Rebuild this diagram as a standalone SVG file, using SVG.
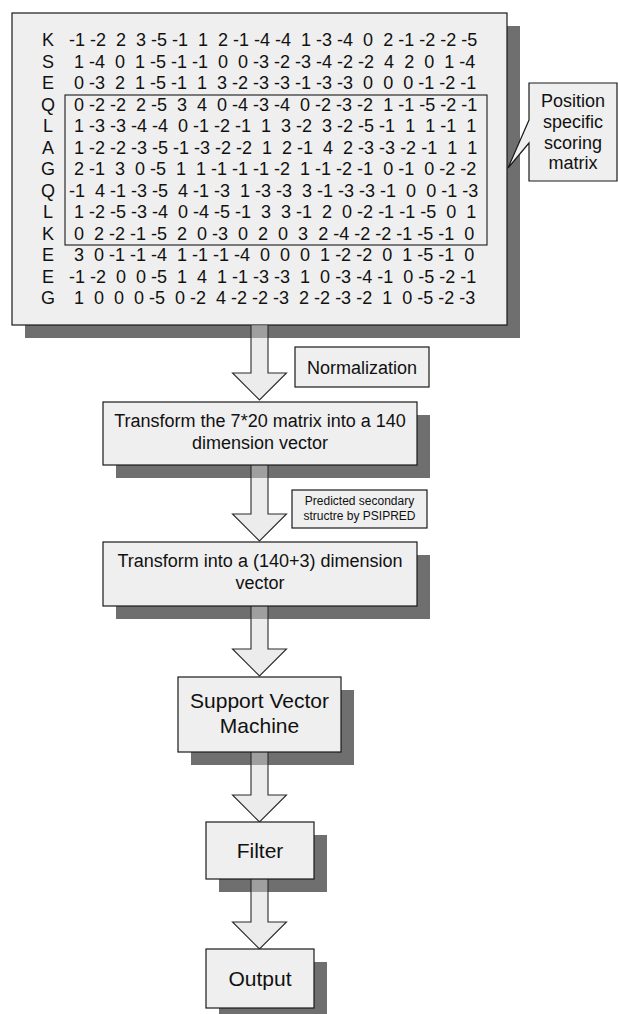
<svg xmlns="http://www.w3.org/2000/svg" width="618" height="1014" viewBox="0 0 618 1014">
<style>
.bg{fill:#ffffff}
.shadow{fill:#6f6f6f}
.box{fill:#efefef;stroke:#1a1a1a;stroke-width:1.2}
.t{font-family:"Liberation Sans",Arial,sans-serif;fill:#111}
.m{font-size:18px}
.lbl{font-size:18px;text-anchor:middle}
.big{font-size:21px;text-anchor:middle}
.small{font-size:12px;text-anchor:middle}
.arrow{fill:#d7d7d7;fill-opacity:0.47;stroke:#2a2a2a;stroke-width:1.1}
.inner{fill:none;stroke:#1a1a1a;stroke-width:1.1}
</style>
<rect class="bg" x="0" y="0" width="618" height="1014"/>

<g id="pssm">
<rect class="shadow" x="25" y="26" width="495" height="312"/>
<rect class="box" x="12" y="13" width="495" height="312"/>
<rect class="inner" x="65" y="95" width="422" height="150"/>
<g class="t" font-size="18" text-anchor="middle">
<text x="48" y="46">K</text>
<text x="48" y="67.5">S</text>
<text x="48" y="89">E</text>
<text x="48" y="110.5">Q</text>
<text x="48" y="132">L</text>
<text x="48" y="153.5">A</text>
<text x="48" y="175">G</text>
<text x="48" y="196.5">Q</text>
<text x="48" y="218">L</text>
<text x="48" y="239.5">K</text>
<text x="48" y="261">E</text>
<text x="48" y="282.5">E</text>
<text x="48" y="304">G</text>
</g>
<g class="t m">
<text x="64" y="46">&#160;-1&#160;-2&#160;&#160;2&#160;&#160;3&#160;-5&#160;-1&#160;&#160;1&#160;&#160;2&#160;-1&#160;-4&#160;-4&#160;&#160;1&#160;-3&#160;-4&#160;&#160;0&#160;&#160;2&#160;-1&#160;-2&#160;-2&#160;-5</text>
<text x="64" y="67.5">&#160;&#160;1&#160;-4&#160;&#160;0&#160;&#160;1&#160;-5&#160;-1&#160;-1&#160;&#160;0&#160;&#160;0&#160;-3&#160;-2&#160;-3&#160;-4&#160;-2&#160;-2&#160;&#160;4&#160;&#160;2&#160;&#160;0&#160;&#160;1&#160;-4</text>
<text x="64" y="89">&#160;&#160;0&#160;-3&#160;&#160;2&#160;&#160;1&#160;-5&#160;-1&#160;&#160;1&#160;&#160;3&#160;-2&#160;-3&#160;-3&#160;-1&#160;-3&#160;-3&#160;&#160;0&#160;&#160;0&#160;&#160;0&#160;-1&#160;-2&#160;-1</text>
<text x="64" y="110.5">&#160;&#160;0&#160;-2&#160;-2&#160;&#160;2&#160;-5&#160;&#160;3&#160;&#160;4&#160;&#160;0&#160;-4&#160;-3&#160;-4&#160;&#160;0&#160;-2&#160;-3&#160;-2&#160;&#160;1&#160;-1&#160;-5&#160;-2&#160;-1</text>
<text x="64" y="132">&#160;&#160;1&#160;-3&#160;-3&#160;-4&#160;-4&#160;&#160;0&#160;-1&#160;-2&#160;-1&#160;&#160;1&#160;&#160;3&#160;-2&#160;&#160;3&#160;-2&#160;-5&#160;-1&#160;&#160;1&#160;&#160;1&#160;-1&#160;&#160;1</text>
<text x="64" y="153.5">&#160;&#160;1&#160;-2&#160;-2&#160;-3&#160;-5&#160;-1&#160;-3&#160;-2&#160;-2&#160;&#160;1&#160;&#160;2&#160;-1&#160;&#160;4&#160;&#160;2&#160;-3&#160;-3&#160;-2&#160;-1&#160;&#160;1&#160;&#160;1</text>
<text x="64" y="175">&#160;&#160;2&#160;-1&#160;&#160;3&#160;&#160;0&#160;-5&#160;&#160;1&#160;&#160;1&#160;-1&#160;-1&#160;-1&#160;-2&#160;&#160;1&#160;-1&#160;-2&#160;-1&#160;&#160;0&#160;-1&#160;&#160;0&#160;-2&#160;-2</text>
<text x="64" y="196.5">&#160;-1&#160;&#160;4&#160;-1&#160;-3&#160;-5&#160;&#160;4&#160;-1&#160;-3&#160;&#160;1&#160;-3&#160;-3&#160;&#160;3&#160;-1&#160;-3&#160;-3&#160;-1&#160;&#160;0&#160;&#160;0&#160;-1&#160;-3</text>
<text x="64" y="218">&#160;&#160;1&#160;-2&#160;-5&#160;-3&#160;-4&#160;&#160;0&#160;-4&#160;-5&#160;-1&#160;&#160;3&#160;&#160;3&#160;-1&#160;&#160;2&#160;&#160;0&#160;-2&#160;-1&#160;-1&#160;-5&#160;&#160;0&#160;&#160;1</text>
<text x="64" y="239.5">&#160;&#160;0&#160;&#160;2&#160;-2&#160;-1&#160;-5&#160;&#160;2&#160;&#160;0&#160;-3&#160;&#160;0&#160;&#160;2&#160;&#160;0&#160;&#160;3&#160;&#160;2&#160;-4&#160;-2&#160;-2&#160;-1&#160;-5&#160;-1&#160;&#160;0</text>
<text x="64" y="261">&#160;&#160;3&#160;&#160;0&#160;-1&#160;-1&#160;-4&#160;&#160;1&#160;-1&#160;-1&#160;-4&#160;&#160;0&#160;&#160;0&#160;&#160;0&#160;&#160;1&#160;-2&#160;-2&#160;&#160;0&#160;&#160;1&#160;-5&#160;-1&#160;&#160;0</text>
<text x="64" y="282.5">&#160;-1&#160;-2&#160;&#160;0&#160;&#160;0&#160;-5&#160;&#160;1&#160;&#160;4&#160;&#160;1&#160;-1&#160;-3&#160;-3&#160;&#160;1&#160;&#160;0&#160;-3&#160;-4&#160;-1&#160;&#160;0&#160;-5&#160;-2&#160;-1</text>
<text x="64" y="304">&#160;&#160;1&#160;&#160;0&#160;&#160;0&#160;&#160;0&#160;-5&#160;&#160;0&#160;-2&#160;&#160;4&#160;-2&#160;-2&#160;-3&#160;&#160;2&#160;-2&#160;-3&#160;-2&#160;&#160;1&#160;&#160;0&#160;-5&#160;-2&#160;-3</text>
</g>
</g>

<g id="callout">
<path class="box" d="M529,83 H617 V181 H529 V143 L508,168 L529,120 Z"/>
<text class="t lbl" x="573" y="107">Position</text>
<text class="t lbl" x="573" y="128">specific</text>
<text class="t lbl" x="573" y="148.5">scoring</text>
<text class="t lbl" x="573" y="169">matrix</text>
</g>

<g id="shadows">
<rect class="shadow" x="116" y="415" width="314" height="63"/>
<rect class="shadow" x="116" y="555" width="314" height="64"/>
<rect class="shadow" x="191" y="690" width="163" height="75"/>
<rect class="shadow" x="219" y="835" width="108" height="57"/>
<rect class="shadow" x="219" y="962" width="108" height="59"/>
</g>

<g id="connectors">
<path class="arrow" d="M251,325 V373 H232.5 L259.5,400 L286.5,373 H268 V325"/>
<path class="arrow" d="M251,465 V514 H232.5 L259.5,541 L286.5,514 H268 V465"/>
<path class="arrow" d="M251,606 V649 H232.5 L259.5,676 L286.5,649 H268 V606"/>
<path class="arrow" d="M251,752 V795 H232.5 L259.5,822 L286.5,795 H268 V752"/>
<path class="arrow" d="M251,879 V922 H232.5 L259.5,949 L286.5,922 H268 V879"/>
</g>

<g id="normalization">
<rect class="box" x="295" y="347" width="134" height="40"/>
<text class="t lbl" x="362" y="373.5">Normalization</text>
</g>

<g id="transform1">
<rect class="box" x="103" y="402" width="314" height="63"/>
<text class="t lbl" x="260" y="427">Transform the 7*20 matrix into a 140</text>
<text class="t lbl" x="260" y="449">dimension vector</text>
</g>

<g id="psipred">
<rect class="box" x="292" y="490" width="135" height="38"/>
<text class="t small" x="359.5" y="505">Predicted secondary</text>
<text class="t small" x="359.5" y="520">structre by PSIPRED</text>
</g>

<g id="transform2">
<rect class="box" x="103" y="542" width="314" height="64"/>
<text class="t lbl" x="260" y="567">Transform into a (140+3) dimension</text>
<text class="t lbl" x="260" y="589">vector</text>
</g>

<g id="svm">
<rect class="box" x="178" y="677" width="163" height="75"/>
<text class="t big" x="259.5" y="708">Support Vector</text>
<text class="t big" x="259.5" y="733">Machine</text>
</g>

<g id="filter">
<rect class="box" x="206" y="822" width="108" height="57"/>
<text class="t big" x="260" y="858">Filter</text>
</g>

<g id="output">
<rect class="box" x="206" y="949" width="108" height="59"/>
<text class="t big" x="260" y="986">Output</text>
</g>
</svg>
